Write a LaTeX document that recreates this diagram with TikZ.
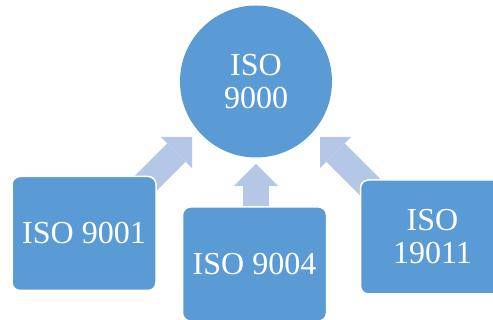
\documentclass[tikz,border=0pt]{standalone}
\usepackage{fontspec}
\setmainfont{Liberation Serif}
\newfontfamily\labelface{Liberation Serif}
\usetikzlibrary{arrows.meta,backgrounds}
\definecolor{isoblue}{RGB}{91,155,213}
\definecolor{arrowblue}{RGB}{180,199,231}
\begin{document}
\begin{tikzpicture}[x=1pt,y=1pt,
  label font/.style={font=\labelface\fontsize{32}{33}\selectfont},
  hub/.style={circle, fill=isoblue, minimum size=152pt, inner sep=0pt,
    text=white, align=center, label font},
  item/.style={rectangle, rounded corners=8pt, fill=isoblue, draw=white,
    line width=1.5pt, minimum width=144pt, minimum height=114pt,
    inner sep=0pt, text=white, align=center, label font},
  flow/.style={draw=arrowblue, line width=26pt, line cap=butt,
    -{Triangle[length=22pt,width=44pt,line width=0pt,fill=arrowblue]}}]
\useasboundingbox (0,0) rectangle (493,320);

% central standard and the related standards
\node[hub]  (core) at (256,238.5) {ISO\\9000};
\node[item] (q1)   at (84,86.5)   {ISO 9001};
\node[item] (q4)   at (254.5,56)  {ISO 9004};
\node[item] (q19)  at (432.5,83)  {ISO\\19011};

% arrow ends: tails sit inside the boxes, tips just short of the circle
\coordinate (tl) at (192,183);
\coordinate (tm) at (256,156);
\coordinate (tr) at (320,183);
\coordinate (sl) at (112,103);
\coordinate (sm) at (256,100);
\coordinate (sr) at (400,103);

\begin{scope}[on background layer]
  \draw[flow] (sl) -- (tl);
  \draw[flow] (sm) -- (tm);
  \draw[flow] (sr) -- (tr);
\end{scope}
\end{tikzpicture}
\end{document}
